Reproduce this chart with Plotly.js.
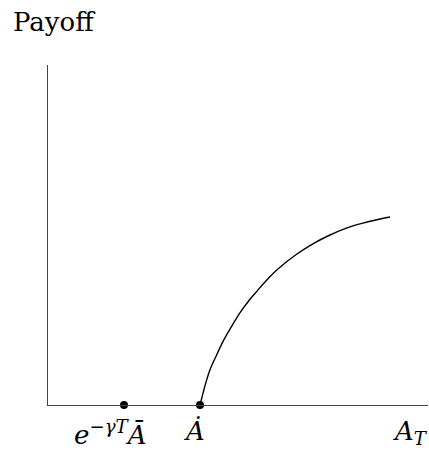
<!DOCTYPE html>
<html>
<head>
<meta charset="utf-8">
<script src="https://cdn.plot.ly/plotly-3.0.1.min.js"></script>
<style>html,body{margin:0;padding:0;background:#fff;}#chart{width:429px;height:455px;}</style>
</head>
<body>
<div id="chart"></div>
<script>
// Payoff curve
const curveX = [4.0, 4.08, 4.16, 4.26, 4.40, 4.61, 4.82, 5.05, 5.26, 5.50, 5.71, 6.05, 6.55, 6.97, 7.42, 7.87, 8.29, 8.74, 9.0];
const curveY = [0, 0.35, 0.68, 1.03, 1.38, 1.88, 2.29, 2.71, 3.03, 3.35, 3.62, 4.00, 4.44, 4.74, 5.00, 5.21, 5.35, 5.47, 5.53];
// Marked points on the horizontal axis
const pointX = [2.0, 4.0];
const pointY = [0, 0];
const pointLabels = ['<i>e</i><sup><i>−γT</i></sup><i>Ā</i>', '<i>Ȧ</i>'];
const axisLabelX = '<i>A</i><sub><i>T</i></sub>';
const axisLabelY = 'Payoff';

const FONT = '"DejaVu Serif", serif';

const traces = [
  {x: curveX, y: curveY, mode: 'lines', line: {color: '#000', width: 1.4, shape: 'spline', smoothing: 1}, hoverinfo: 'skip'},
  {x: pointX, y: pointY, mode: 'markers', marker: {color: '#000', size: 8}, cliponaxis: false, hoverinfo: 'skip'}
];

const labelShifts = [-14, -6];
const annotations = pointX.map((px, i) => ({
  x: px, y: 0, xref: 'x', yref: 'y', text: pointLabels[i], showarrow: false,
  xanchor: 'center', yanchor: 'top', xshift: labelShifts[i], yshift: -9,
  font: {family: FONT, size: 26, color: '#000'}
}));
annotations.push({
  x: 9.55, y: 0, xref: 'x', yref: 'y', text: axisLabelX, showarrow: false,
  xanchor: 'center', yanchor: 'top', yshift: -9,
  font: {family: FONT, size: 26, color: '#000'}
});
annotations.push({
  x: -0.097, y: 1, xref: 'paper', yref: 'paper', text: axisLabelY, showarrow: false,
  xanchor: 'left', yanchor: 'bottom', yshift: 26,
  font: {family: FONT, size: 26, color: '#000'}
});

const layout = {
  width: 429, height: 455,
  margin: {l: 48, r: 1, t: 65, b: 50, pad: 0},
  paper_bgcolor: '#fff', plot_bgcolor: '#fff',
  font: {family: FONT},
  showlegend: false,
  xaxis: {range: [0, 10], showline: true, linecolor: '#444', linewidth: 1.2, showgrid: false, zeroline: false, showticklabels: false, ticks: ''},
  yaxis: {range: [0, 10], showline: true, linecolor: '#444', linewidth: 1.2, showgrid: false, zeroline: false, showticklabels: false, ticks: ''},
  annotations: annotations
};

Plotly.newPlot('chart', traces, layout, {displayModeBar: false, staticPlot: true});
</script>
</body>
</html>
